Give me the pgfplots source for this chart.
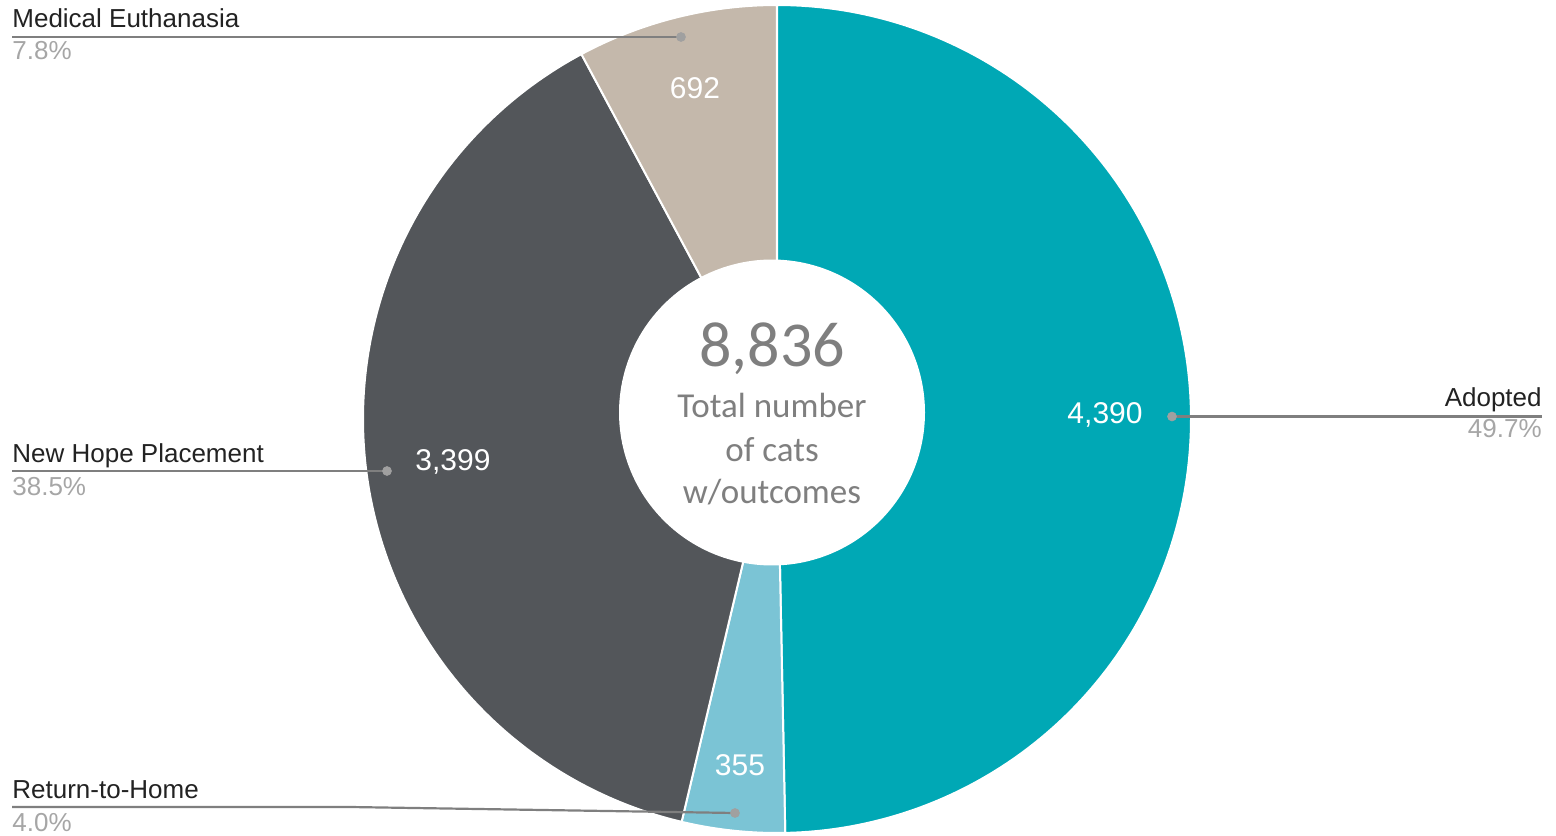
\documentclass[border=0pt]{standalone}
\usepackage{pgfplots}
\pgfplotsset{compat=1.18}
\usepackage{fontspec}
\setmainfont{Liberation Sans}
\newfontfamily\calibri{Carlito}
\definecolor{cAdopt}{HTML}{00A8B5}
\definecolor{cRTH}{HTML}{7BC4D5}
\definecolor{cNHP}{HTML}{53565A}
\definecolor{cMed}{HTML}{C4B8AB}
\definecolor{cLine}{HTML}{7F7F7F}
\definecolor{cDot}{HTML}{A0A0A0}
\definecolor{cPct}{HTML}{A6A6A6}
\definecolor{cLab}{HTML}{222222}
\definecolor{cCenter}{HTML}{7F7F7F}
\begin{document}
\begin{tikzpicture}
% data
\def\vAdopt{4390}
\def\vRTH{355}
\def\vNHP{3399}
\def\vMed{692}
\pgfmathsetmacro\tot{\vAdopt+\vRTH+\vNHP+\vMed}
\pgfmathsetmacro\aA{90}
\pgfmathsetmacro\aB{\aA-\vAdopt/\tot*360}
\pgfmathsetmacro\aC{\aB-\vRTH/\tot*360}
\pgfmathsetmacro\aD{\aC-\vNHP/\tot*360}
\pgfmathsetmacro\aE{\aD-\vMed/\tot*360}
\begin{axis}[name=ax,
  width=778pt, height=417.5pt, scale only axis,
  xmin=0, xmax=1556, ymin=0, ymax=835,
  hide axis, clip=false]
% wedges
\addplot[fill=cAdopt, draw=white, line width=1pt, domain=\aB:\aA, samples=160]
  ({777+414*cos(x)},{416+414*sin(x)}) -- (axis cs:777,416) -- cycle;
\addplot[fill=cRTH, draw=white, line width=1pt, domain=\aC:\aB, samples=40]
  ({777+414*cos(x)},{416+414*sin(x)}) -- (axis cs:777,416) -- cycle;
\addplot[fill=cNHP, draw=white, line width=1pt, domain=\aD:\aC, samples=140]
  ({777+414*cos(x)},{416+414*sin(x)}) -- (axis cs:777,416) -- cycle;
\addplot[fill=cMed, draw=white, line width=1pt, domain=\aE:\aD, samples=50]
  ({777+414*cos(x)},{416+414*sin(x)}) -- (axis cs:777,416) -- cycle;
% hole
\addplot[fill=white, draw=none, domain=0:360, samples=200]
  ({772+153*cos(x)},{422.5+153*sin(x)});
% leader lines
\addplot[cLine, line width=1.1pt] coordinates {(12,798) (681,798)};
\addplot[cLine, line width=1.1pt] coordinates {(12,364) (387,364)};
\addplot[cLine, line width=1.1pt] coordinates {(12,28) (350,28) (735,22)};
\addplot[cLine, line width=1.1pt] coordinates {(1172,418.5) (1542,418.5)};
\addplot[only marks, mark=*, mark size=2.2pt, cDot] coordinates {(681,798) (387,364) (735,22) (1172,418.5)};
% category labels
\node[anchor=base west, font=\fontsize{13}{15}\selectfont, text=cLab, inner sep=0pt] at (axis cs:12,807) {Medical Euthanasia};
\node[anchor=base west, font=\fontsize{13}{15}\selectfont, text=cPct, inner sep=0pt] at (axis cs:12,775) {7.8\%};
\node[anchor=base west, font=\fontsize{13}{15}\selectfont, text=cLab, inner sep=0pt] at (axis cs:12,372) {New Hope Placement};
\node[anchor=base west, font=\fontsize{13}{15}\selectfont, text=cPct, inner sep=0pt] at (axis cs:12,339) {38.5\%};
\node[anchor=base west, font=\fontsize{13}{15}\selectfont, text=cLab, inner sep=0pt] at (axis cs:12,37) {Return-to-Home};
\node[anchor=base west, font=\fontsize{13}{15}\selectfont, text=cPct, inner sep=0pt] at (axis cs:12,4) {4.0\%};
\node[anchor=base east, font=\fontsize{13}{15}\selectfont, text=cLab, inner sep=0pt] at (axis cs:1542,428) {Adopted};
\node[anchor=base east, font=\fontsize{13}{15}\selectfont, text=cPct, inner sep=0pt] at (axis cs:1542,397) {49.7\%};
% value labels
\node[font=\fontsize{15}{17}\selectfont, text=white, inner sep=0pt] at (axis cs:1105,420) {4,390};
\node[font=\fontsize{15}{17}\selectfont, text=white, inner sep=0pt] at (axis cs:453,373) {3,399};
\node[font=\fontsize{15}{17}\selectfont, text=white, inner sep=0pt] at (axis cs:695,747) {692};
\node[font=\fontsize{15}{17}\selectfont, text=white, inner sep=0pt] at (axis cs:740,70) {355};
% center text
\node[anchor=base, font=\calibri\fontsize{32}{36}\selectfont, text=cCenter, inner sep=0pt] at (axis cs:772,468) {8,836};
\node[anchor=base, font=\calibri\fontsize{17.5}{21}\selectfont, text=cCenter, inner sep=0pt] at (axis cs:772,417) {Total number};
\node[anchor=base, font=\calibri\fontsize{17.5}{21}\selectfont, text=cCenter, inner sep=0pt] at (axis cs:772,373) {of cats};
\node[anchor=base, font=\calibri\fontsize{17.5}{21}\selectfont, text=cCenter, inner sep=0pt] at (axis cs:772,331) {w/outcomes};
\end{axis}
\pgfresetboundingbox
\path (ax.south west) rectangle (ax.north east);
\end{tikzpicture}
\end{document}
